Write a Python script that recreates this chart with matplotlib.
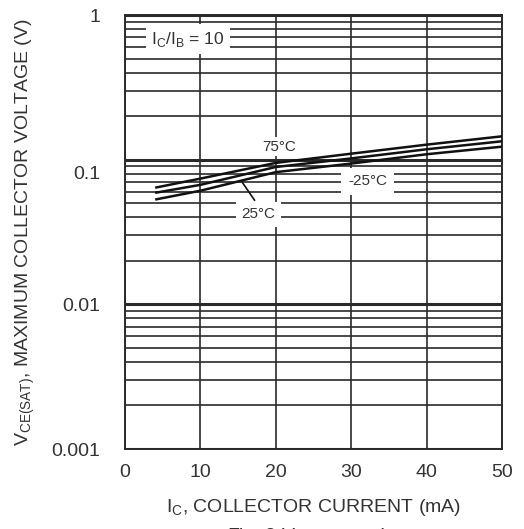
import matplotlib
matplotlib.use("Agg")
import matplotlib.pyplot as plt
import matplotlib.transforms as mtransforms
import numpy as np

plt.rcParams['font.family'] = ['Liberation Sans', 'DejaVu Sans']

# Data
ic_ma = [4, 10, 20, 30, 40, 50]
vce_75 = [0.064, 0.074, 0.095, 0.110, 0.127, 0.145]
vce_25 = [0.059, 0.067, 0.089, 0.102, 0.118, 0.134]
vce_m25 = [0.053, 0.061, 0.082, 0.094, 0.109, 0.123]

x_ticks = [0, 10, 20, 30, 40, 50]
x_tick_labels = ['0', '10', '20', '30', '40', '50']
y_ticks = [0.001, 0.01, 0.1, 1]
y_tick_labels = ['0.001', '0.01', '0.1', '1']

fig = plt.figure(figsize=(5.24, 5.29), dpi=100)
ax = fig.add_axes([125/524, 1 - 449/529, 377/524, 434/529])

ax.set_yscale('log')
ax.set_xlim(0, 50)
ax.set_ylim(0.001, 1)

gc = '#2a2a2a'
tc = '#333333'
ax.set_xticks(x_ticks)
ax.set_xticklabels(x_tick_labels, fontsize=14)
ax.set_yticks(y_ticks)
ax.set_yticklabels(y_tick_labels, fontsize=14)
ax.yaxis.set_minor_locator(matplotlib.ticker.LogLocator(base=10, subs=np.arange(2, 10)))
ax.yaxis.set_minor_formatter(matplotlib.ticker.NullFormatter())
ax.grid(True, which='major', axis='y', color=gc, lw=2.2, zorder=1)
ax.grid(True, which='minor', axis='y', color=gc, lw=1.2, zorder=1)
ax.grid(True, which='major', axis='x', color=gc, lw=1.2, zorder=1)
ax.tick_params(axis='x', which='both', length=0, pad=11, colors=tc)
ax.tick_params(axis='y', which='both', length=0, pad=18, colors=tc)
for s in ax.spines.values():
    s.set_color(gc)
    s.set_linewidth(1.4)

# the "0.1" label sits a little below its gridline in the reference
for lbl in ax.get_yticklabels():
    if lbl.get_text() == '0.1':
        lbl.set_transform(lbl.get_transform() + mtransforms.ScaledTranslation(0, -9/72, fig.dpi_scale_trans))

# curves
for v in (vce_75, vce_25, vce_m25):
    ax.plot(ic_ma, v, color='#111111', lw=1.8, zorder=3, solid_capstyle='butt')

ax.text(3.5, 0.68, r'I$_\mathregular{C}$/I$_\mathregular{B}$ = 10', fontsize=12.5, va='center', ha='left',
        color=tc, bbox=dict(facecolor='white', edgecolor='none', pad=4), zorder=4)
ax.text(20.5, 0.123, '75°C', fontsize=11, ha='center', va='center', color=tc,
        bbox=dict(facecolor='white', edgecolor='none', pad=2), zorder=4)
ax.text(32.2, 0.0707, '-25°C', fontsize=11, ha='center', va='center', color=tc,
        bbox=dict(facecolor='white', edgecolor='none', pad=5), zorder=4)
ax.text(17.7, 0.042, '25°C', fontsize=11, ha='center', va='center', color=tc,
        bbox=dict(facecolor='white', edgecolor='none', pad=4), zorder=4)
ax.annotate('', xy=(15.3, 0.0729), xytext=(17.4, 0.0505),
            arrowprops=dict(arrowstyle='-', color='#111111', lw=1.2), zorder=5)

ax.set_xlabel(r'I$_\mathregular{C}$, COLLECTOR CURRENT (mA)', fontsize=14, color=tc, labelpad=11)
ax.set_ylabel(r'V$_\mathregular{CE(SAT)}$, MAXIMUM COLLECTOR VOLTAGE (V)', fontsize=14, color=tc, labelpad=10)

fig.text(312/524, 1 - 527/529, r'Fig. 3 V$_\mathregular{CE(SAT)}$ vs I$_\mathregular{C}$', fontsize=14,
         ha='center', va='top', color=tc)

fig.savefig('out.png', dpi=100)
